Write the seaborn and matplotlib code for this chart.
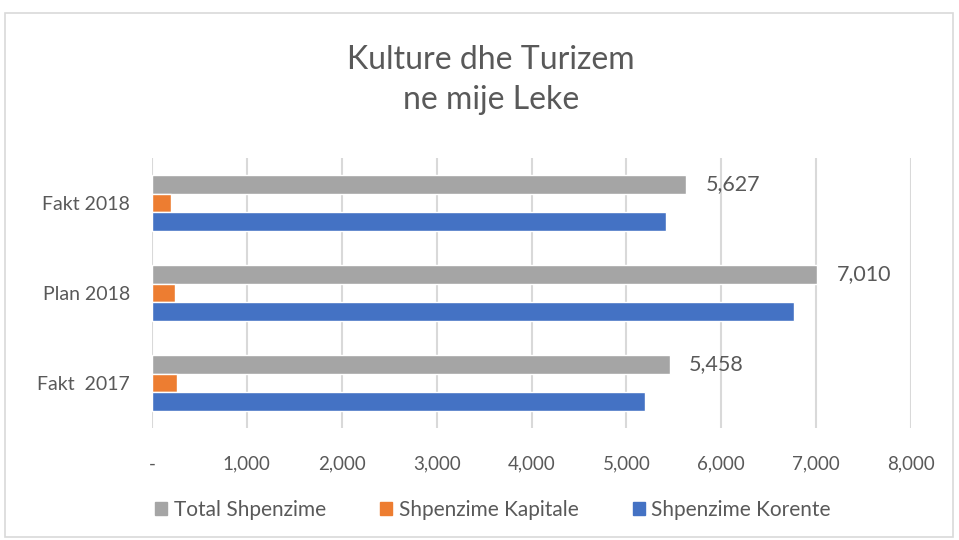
import pandas as pd
import matplotlib.pyplot as plt
import seaborn as sns
from matplotlib.ticker import FuncFormatter
from matplotlib.patches import Rectangle

# te dhenat (ne mije Leke)
kategorite = ['Fakt 2018', 'Plan 2018', 'Fakt  2017']
seria = ['Total Shpenzime', 'Shpenzime Kapitale', 'Shpenzime Korente']
total = [5627, 7010, 5458]
kapitale = [205, 240, 263]
korente = [5420, 6770, 5195]
x_ticks = [0, 1000, 2000, 3000, 4000, 5000, 6000, 7000, 8000]

df = pd.DataFrame({
    'Kategoria': kategorite * 3,
    'Seria': [seria[0]] * 3 + [seria[1]] * 3 + [seria[2]] * 3,
    'Vlera': total + kapitale + korente,
})

ngjyrat = ['#A5A5A5', '#ED7D31', '#4472C4']
tekst = '#595959'

sns.set_style('white')
plt.rcParams['font.family'] = ['Lato', 'DejaVu Sans']

fig = plt.figure(figsize=(9.59, 5.4), dpi=100)
ax = fig.add_axes([152 / 959, 1 - 428 / 540, (911 - 152) / 959, 270 / 540])

sns.barplot(data=df, y='Kategoria', x='Vlera', hue='Seria', order=kategorite,
            hue_order=seria, palette=ngjyrat, orient='h', width=0.62,
            saturation=1, ax=ax, legend=False)

# etiketa vetem per totalin
ax.bar_label(ax.containers[0], labels=[f'{v:,}' for v in total], padding=14,
             fontsize=15.5, color=tekst)

ax.set_xlim(0, 8000)
ax.set_xticks(x_ticks)
ax.xaxis.set_major_formatter(FuncFormatter(lambda v, p: '-' if v == 0 else f'{v:,.0f}'))
ax.grid(axis='x', color='#D9D9D9', linewidth=1.5)
ax.set_axisbelow(True)
for s in ax.spines.values():
    s.set_visible(False)
ax.tick_params(axis='x', length=0, pad=20, labelsize=13.5, labelcolor=tekst)
ax.tick_params(axis='y', length=0, pad=16, labelsize=14, labelcolor=tekst)
ax.set_xlabel('')
ax.set_ylabel('')

fig.text(491 / 959, 1 - 80 / 540, 'Kulture dhe Turizem\nne mije Leke', ha='center', va='center',
         fontsize=23, color=tekst, linespacing=1.45)

handles = [Rectangle((0, 0), 1, 1, color=c) for c in ngjyrat]
fig.legend(handles, seria, loc='center', bbox_to_anchor=(0.514, 1 - 510 / 540), ncol=3,
           frameon=False, fontsize=15, labelcolor=tekst, handlelength=0.6,
           handleheight=0.6, handletextpad=0.3, columnspacing=2.6)

fig.patches.append(Rectangle((5 / 959, 0.005), 948 / 959, 1 - 13 / 540 - 0.005,
                             transform=fig.transFigure, fill=False,
                             edgecolor='#D9D9D9', linewidth=1.2))

plt.savefig('out.png', dpi=100)
plt.close()
